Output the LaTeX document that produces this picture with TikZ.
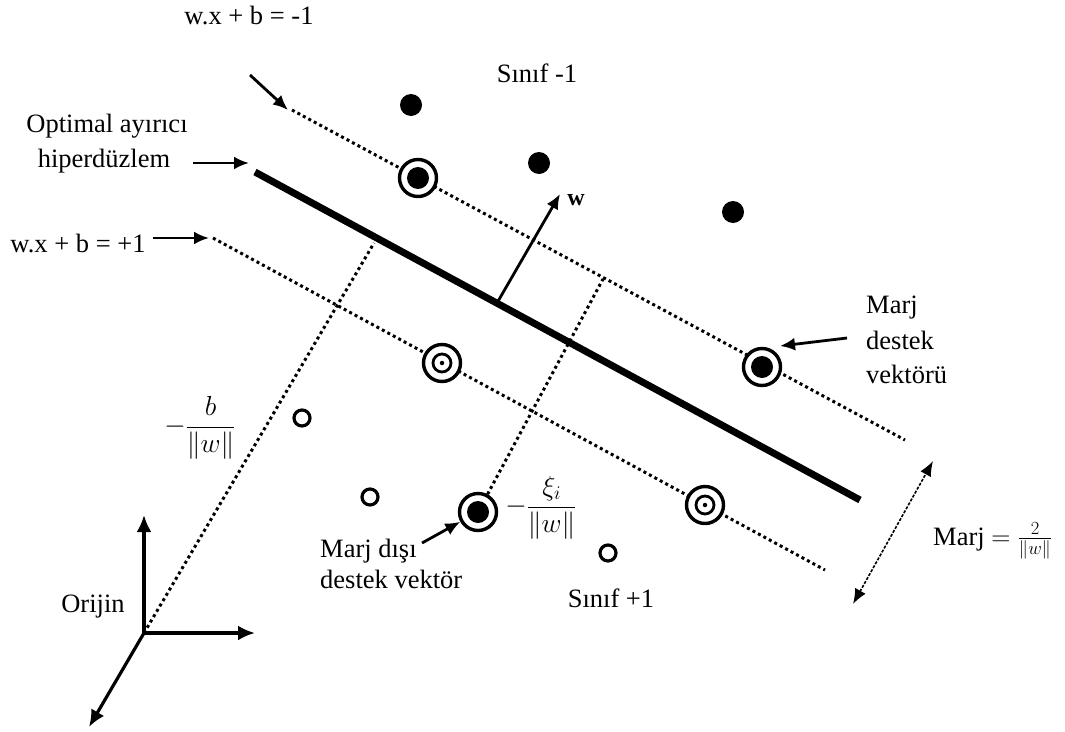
\RequirePackage{fix-cm}
\documentclass[tikz,border=0pt]{standalone}
\usepackage{fontspec}
\setmainfont{Liberation Serif}
\usetikzlibrary{arrows.meta}
\begin{document}
\begin{tikzpicture}[x=1pt,y=-1pt,
  lbl/.style={inner sep=0pt, font=\fontsize{26.5}{32}\selectfont},
  arr/.style={line width=2.8pt, -{Latex[length=15pt,width=13pt]}},
  axisarr/.style={line width=3.2pt, -{Latex[length=17pt,width=15pt]}},
  dotline/.style={line width=3pt, dash pattern=on 3pt off 3.2pt},
  hyper/.style={line width=7pt},
  ring/.style={circle, draw, line width=3.4pt, fill=white, minimum size=37pt, inner sep=0pt},
  innerring/.style={circle, draw, line width=2.8pt, minimum size=18pt, inner sep=0pt},
  bigdot/.style={circle, fill, minimum size=22pt, inner sep=0pt},
  tinydot/.style={circle, fill, minimum size=4.5pt, inner sep=0pt},
  opendot/.style={circle, draw, line width=3.2pt, fill=white, minimum size=16pt, inner sep=0pt},
  margarr/.style={line width=1.6pt, dash pattern=on 3pt off 1.5pt, {Latex[length=15pt,width=12pt]}-{Latex[length=15pt,width=12pt]}}
]
\useasboundingbox (0,0) rectangle (1065,731);

% line end points
\coordinate (upA) at (292,110);
\coordinate (upB) at (905,440);
\coordinate (hpA) at (255,172);
\coordinate (hpB) at (860,500);
\coordinate (loA) at (213,238);
\coordinate (loB) at (825,570);
\coordinate (O) at (144,633);
\coordinate (p1top) at (374,243);
\coordinate (p2top) at (603,279);
\coordinate (wfoot) at (497,303);
\coordinate (wtip) at (560,194);

% lines
\draw[dotline] (upA) -- (upB);
\draw[dotline] (loA) -- (loB);
\draw[hyper] (hpA) -- (hpB);
\draw[dotline] (O) -- (p1top);

% axes
\coordinate (axU) at (144,515);
\coordinate (axR) at (255,633);
\coordinate (axD) at (89,727);
\draw[axisarr] (O) -- (axU);
\draw[axisarr] (O) -- (axR);
\draw[axisarr] (O) -- (axD);

% w vector
\draw[arr] (wfoot) -- (wtip);
\node[lbl, font=\fontsize{24}{28}\selectfont\bfseries] (wlbl) at (576,200) {w};

% class -1 points
\node[bigdot] (n1) at (411,105) {};
\node[bigdot] (n2) at (539,163) {};
\node[bigdot] (n3) at (733,212) {};

% support vectors on w.x+b=-1
\node[ring] (sv1) at (418,178) {};
\node[bigdot] at (sv1) {};
\node[ring] (sv2) at (762,367) {};
\node[bigdot] at (sv2) {};

% support vectors on w.x+b=+1
\node[ring] (sv3) at (442,363) {};
\node[innerring] at (sv3) {};
\node[tinydot] at (sv3) {};
\node[ring] (sv4) at (705,505) {};
\node[innerring] at (sv4) {};
\node[tinydot] at (sv4) {};

% non-margin support vector
\node[ring] (md) at (478,512) {};
\node[bigdot] at (md) {};
\draw[dotline] (md) -- (p2top);

% class +1 points
\node[opendot] (o1) at (302,418) {};
\node[opendot] (o2) at (370,497) {};
\node[opendot] (o3) at (608,553) {};

% labels
\node[lbl, anchor=base] (eqm) at (249,24) {w.x + b = -1};
\node[lbl, anchor=base] (s1) at (537,82) {Sınıf -1};
\node[lbl, anchor=base] (opt1) at (107,132) {Optimal ayırıcı};
\node[lbl, anchor=base] (opt2) at (104,167) {hiperdüzlem};
\node[lbl, anchor=base] (eqp) at (78,252) {w.x + b = +1};
\node[lbl, anchor=base west] (mdv1) at (866,313) {Marj};
\node[lbl, anchor=base west] (mdv2) at (866,349) {destek};
\node[lbl, anchor=base west] (mdv3) at (866,383) {vektörü};
\node[lbl, anchor=base west] (mdd1) at (320,557) {Marj dışı};
\node[lbl, anchor=base west] (mdd2) at (320,588) {destek vektör};
\node[lbl, anchor=base] (s2) at (611,607) {Sınıf +1};
\node[lbl, anchor=base] (orj) at (93,612) {Orijin};
\node[lbl, font=\fontsize{27.5}{32}\selectfont] (bfrac) at (200,428) {$-{\displaystyle\frac{b}{\|w\|}}$};
\node[lbl, font=\fontsize{27.5}{32}\selectfont] (xifrac) at (541,508) {$-{\displaystyle\frac{\xi_i}{\|w\|}}$};
\node[lbl, anchor=base west] (marj) at (933,545) {Marj $=\frac{2}{\|w\|}$};

% label arrows
\coordinate (a1s) at (250,75);  \coordinate (a1e) at (288,110);
\coordinate (a2s) at (193,163); \coordinate (a2e) at (249,163);
\coordinate (a3s) at (153,238); \coordinate (a3e) at (209,238);
\coordinate (a4s) at (847,338); \coordinate (a4e) at (780,346);
\coordinate (a5s) at (422,543);
\draw[arr] (a1s) -- (a1e);
\draw[arr] (a2s) -- (a2e);
\draw[arr] (a3s) -- (a3e);
\draw[arr] (a4s) -- (a4e);
\draw[arr] (a5s) -- (md);

% margin arrow
\coordinate (mA) at (933,461);
\coordinate (mB) at (853,604);
\draw[margarr] (mB) -- (mA);
\end{tikzpicture}
\end{document}
